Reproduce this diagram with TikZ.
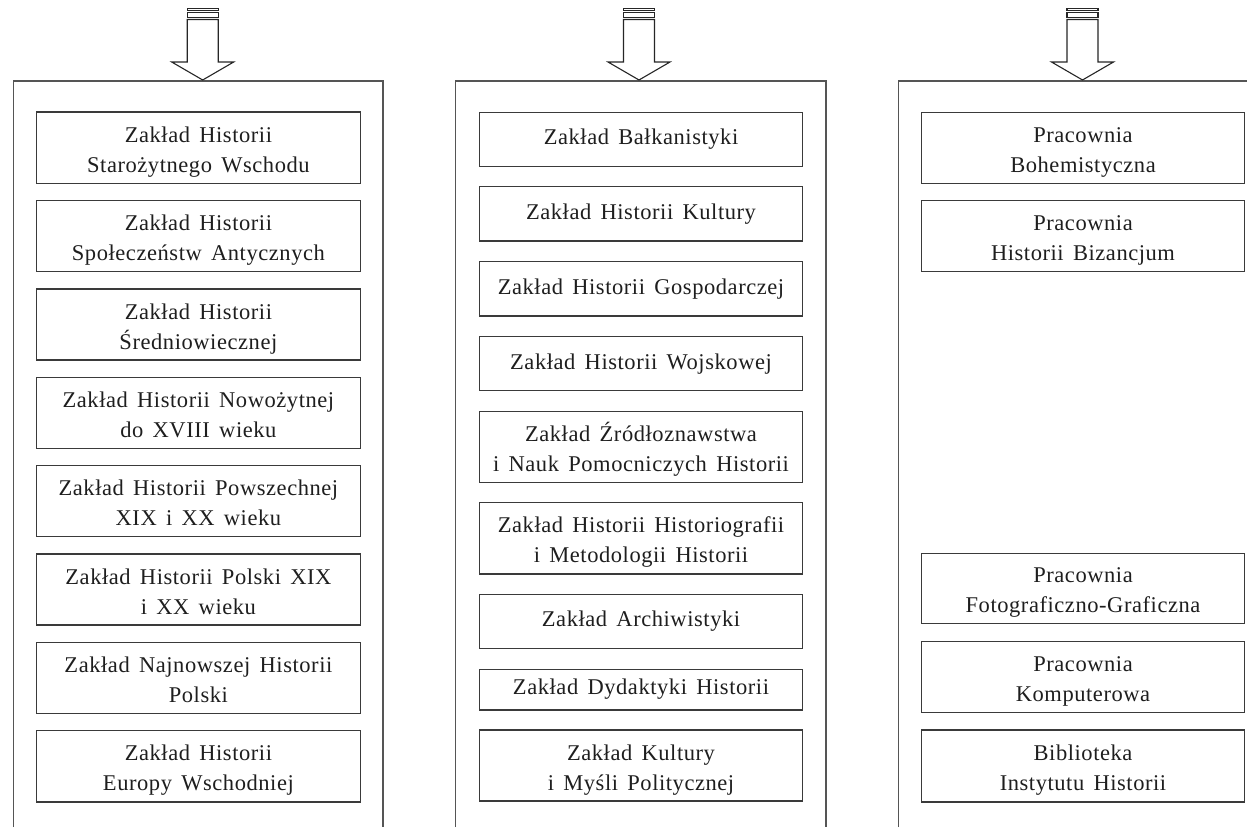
\documentclass[tikz,border=0pt]{standalone}
\usepackage{fontspec}
\setmainfont{Liberation Serif}[LetterSpace=2.5, WordSpace=1.5]
\definecolor{boxline}{HTML}{3A3A3A}
\definecolor{panelline}{HTML}{555555}
\definecolor{textcol}{HTML}{1E1E1E}
\tikzset{
  unitbox/.style={draw=boxline, line width=1.2pt, minimum width=323.5pt,
    inner sep=0pt, align=center, text=textcol,
    font=\fontsize{22.5}{30}\selectfont},
  panelframe/.style={draw=panelline, line width=1.3pt},
  inflowline/.style={draw=black!85, line width=1.1pt, fill=white},
  pics/inflow/.style={code={
    \draw[inflowline] (-15.5,-60.5) -- (-15.5,-18) -- (-31,-18) -- (0,0)
      -- (31,-18) -- (15.5,-18) -- (15.5,-60.5) -- cycle;
    \draw[inflowline] (-15.5,-71.7) rectangle (15.5,-69.7);
    \draw[inflowline] (-15.5,-67.5) rectangle (15.5,-62.7);
  }}
}
% struts that fix where the lines sit inside a box
\newcommand\oneline[1]{\rule[-5pt]{0pt}{20pt}#1}
\newcommand\twolines[2]{\rule{0pt}{25pt}#1\\#2\rule[-6pt]{0pt}{0pt}}
% \unit{name}{x centre}{top}{bottom}{text}
\newcommand\unit[5]{%
  \node[unitbox, minimum height={(#4-#3)*1pt}] (#1) at (#2,{(#3+#4)/2}) {#5};}
\begin{document}
\begin{tikzpicture}[x=1pt,y=-1pt]
\useasboundingbox (0,0) rectangle (1247,827);

% panels (open at the bottom)
\coordinate (pL) at (13.7,81);
\coordinate (pM) at (455.7,81);
\coordinate (pR) at (898.3,81);
\draw[panelframe] (13.7,827) -- (pL) -- (383,81) -- (383,827);
\draw[panelframe] (455.7,827) -- (pM) -- (826,81) -- (826,827);
\draw[panelframe] (898.3,827) -- (pR) -- (1268,81) -- (1268,827);

% incoming block arrows
\pic at (202.7,80) {inflow};
\pic at (639,80) {inflow};
\pic at (1082.5,80) {inflow};

% left column
\unit{l1}{198.4}{112}{183.3}{\twolines{Zakład Historii}{Starożytnego Wschodu}}
\unit{l2}{198.4}{200.7}{271.7}{\twolines{Zakład Historii}{Społeczeństw Antycznych}}
\unit{l3}{198.4}{289}{360}{\twolines{Zakład Historii}{Średniowiecznej}}
\unit{l4}{198.4}{377.3}{448.3}{\twolines{Zakład Historii Nowożytnej}{do XVIII wieku}}
\unit{l5}{198.4}{465.7}{536.7}{\twolines{Zakład Historii Powszechnej}{XIX i XX wieku}}
\unit{l6}{198.4}{554}{625}{\twolines{Zakład Historii Polski XIX}{i XX wieku}}
\unit{l7}{198.4}{642.3}{713.3}{\twolines{Zakład Najnowszej Historii}{Polski}}
\unit{l8}{198.4}{730.7}{802}{\twolines{Zakład Historii}{Europy Wschodniej}}

% middle column
\unit{m1}{641}{112.3}{166.7}{\oneline{Zakład Bałkanistyki}}
\unit{m2}{641}{186.7}{241}{\oneline{Zakład Historii Kultury}}
\unit{m3}{641}{261.7}{316}{\oneline{Zakład Historii Gospodarczej}}
\unit{m4}{641}{336.7}{390.7}{\oneline{Zakład Historii Wojskowej}}
\unit{m5}{641}{411.7}{482.3}{\twolines{Zakład Źródłoznawstwa}{i Nauk Pomocniczych Historii}}
\unit{m6}{641}{502.7}{574}{\twolines{Zakład Historii Historiografii}{i Metodologii Historii}}
\unit{m7}{641}{594.3}{648.7}{\oneline{Zakład Archiwistyki}}
\unit{m8}{641}{669.3}{710}{\oneline{Zakład Dydaktyki Historii}}
\unit{m9}{641}{730}{801}{\twolines{Zakład Kultury}{i Myśli Politycznej}}

% right column
\unit{r1}{1083}{112.3}{183.3}{\twolines{Pracownia}{Bohemistyczna}}
\unit{r2}{1083}{200.7}{271.7}{\twolines{Pracownia}{Historii Bizancjum}}
\unit{r3}{1083}{553.3}{623.3}{\twolines{Pracownia}{Fotograficzno-Graficzna}}
\unit{r4}{1083}{641.7}{712.7}{\twolines{Pracownia}{Komputerowa}}
\unit{r5}{1083}{730}{802}{\twolines{Biblioteka}{Instytutu Historii}}
\end{tikzpicture}
\end{document}
